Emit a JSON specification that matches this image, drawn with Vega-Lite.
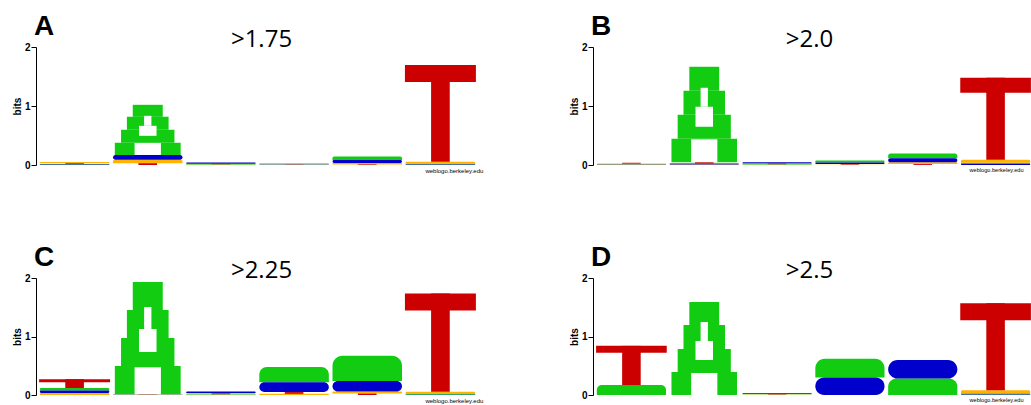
{
  "$schema": "https://vega.github.io/schema/vega-lite/v6.json",
  "padding": {"left": 12, "top": 13, "right": 0, "bottom": 0},
  "background": "white",
  "config": {
    "view": {"stroke": null},
    "font": "Liberation Sans",
    "axis": {"grid": false},
    "title": {"anchor": "start", "frame": "group", "fontSize": 28, "fontWeight": "bold", "color": "#000", "dx": -4, "offset": -14}
  },
  "datasets": {
    "logo": [
      {"panel": "A", "pos": 1, "letter": "A", "bits": 0.008},
      {"panel": "A", "pos": 1, "letter": "C", "bits": 0.01},
      {"panel": "A", "pos": 1, "letter": "T", "bits": 0.012},
      {"panel": "A", "pos": 1, "letter": "G", "bits": 0.02},
      {"panel": "A", "pos": 2, "letter": "T", "bits": 0.03},
      {"panel": "A", "pos": 2, "letter": "G", "bits": 0.06},
      {"panel": "A", "pos": 2, "letter": "C", "bits": 0.08},
      {"panel": "A", "pos": 2, "letter": "A", "bits": 0.85},
      {"panel": "A", "pos": 3, "letter": "G", "bits": 0.005},
      {"panel": "A", "pos": 3, "letter": "A", "bits": 0.008},
      {"panel": "A", "pos": 3, "letter": "T", "bits": 0.01},
      {"panel": "A", "pos": 3, "letter": "C", "bits": 0.02},
      {"panel": "A", "pos": 4, "letter": "G", "bits": 0.003},
      {"panel": "A", "pos": 4, "letter": "T", "bits": 0.004},
      {"panel": "A", "pos": 4, "letter": "C", "bits": 0.005},
      {"panel": "A", "pos": 4, "letter": "A", "bits": 0.015},
      {"panel": "A", "pos": 5, "letter": "T", "bits": 0.01},
      {"panel": "A", "pos": 5, "letter": "G", "bits": 0.025},
      {"panel": "A", "pos": 5, "letter": "C", "bits": 0.05},
      {"panel": "A", "pos": 5, "letter": "A", "bits": 0.06},
      {"panel": "A", "pos": 6, "letter": "C", "bits": 0.01},
      {"panel": "A", "pos": 6, "letter": "A", "bits": 0.015},
      {"panel": "A", "pos": 6, "letter": "G", "bits": 0.03},
      {"panel": "A", "pos": 6, "letter": "T", "bits": 1.64},

      {"panel": "B", "pos": 1, "letter": "C", "bits": 0.005},
      {"panel": "B", "pos": 1, "letter": "G", "bits": 0.008},
      {"panel": "B", "pos": 1, "letter": "A", "bits": 0.01},
      {"panel": "B", "pos": 1, "letter": "T", "bits": 0.015},
      {"panel": "B", "pos": 2, "letter": "G", "bits": 0.01},
      {"panel": "B", "pos": 2, "letter": "C", "bits": 0.015},
      {"panel": "B", "pos": 2, "letter": "T", "bits": 0.02},
      {"panel": "B", "pos": 2, "letter": "A", "bits": 1.62},
      {"panel": "B", "pos": 3, "letter": "G", "bits": 0.005},
      {"panel": "B", "pos": 3, "letter": "A", "bits": 0.008},
      {"panel": "B", "pos": 3, "letter": "T", "bits": 0.012},
      {"panel": "B", "pos": 3, "letter": "C", "bits": 0.02},
      {"panel": "B", "pos": 4, "letter": "G", "bits": 0.006},
      {"panel": "B", "pos": 4, "letter": "T", "bits": 0.01},
      {"panel": "B", "pos": 4, "letter": "C", "bits": 0.025},
      {"panel": "B", "pos": 4, "letter": "A", "bits": 0.035},
      {"panel": "B", "pos": 5, "letter": "T", "bits": 0.015},
      {"panel": "B", "pos": 5, "letter": "G", "bits": 0.03},
      {"panel": "B", "pos": 5, "letter": "C", "bits": 0.07},
      {"panel": "B", "pos": 5, "letter": "A", "bits": 0.08},
      {"panel": "B", "pos": 6, "letter": "C", "bits": 0.015},
      {"panel": "B", "pos": 6, "letter": "A", "bits": 0.025},
      {"panel": "B", "pos": 6, "letter": "G", "bits": 0.05},
      {"panel": "B", "pos": 6, "letter": "T", "bits": 1.39},

      {"panel": "C", "pos": 1, "letter": "G", "bits": 0.035},
      {"panel": "C", "pos": 1, "letter": "C", "bits": 0.04},
      {"panel": "C", "pos": 1, "letter": "A", "bits": 0.045},
      {"panel": "C", "pos": 1, "letter": "T", "bits": 0.15},
      {"panel": "C", "pos": 2, "letter": "G", "bits": 0.003},
      {"panel": "C", "pos": 2, "letter": "C", "bits": 0.004},
      {"panel": "C", "pos": 2, "letter": "T", "bits": 0.005},
      {"panel": "C", "pos": 2, "letter": "A", "bits": 1.92},
      {"panel": "C", "pos": 3, "letter": "G", "bits": 0.005},
      {"panel": "C", "pos": 3, "letter": "A", "bits": 0.008},
      {"panel": "C", "pos": 3, "letter": "T", "bits": 0.015},
      {"panel": "C", "pos": 3, "letter": "C", "bits": 0.03},
      {"panel": "C", "pos": 4, "letter": "G", "bits": 0.02},
      {"panel": "C", "pos": 4, "letter": "T", "bits": 0.03},
      {"panel": "C", "pos": 4, "letter": "C", "bits": 0.17},
      {"panel": "C", "pos": 4, "letter": "A", "bits": 0.26},
      {"panel": "C", "pos": 5, "letter": "T", "bits": 0.025},
      {"panel": "C", "pos": 5, "letter": "G", "bits": 0.035},
      {"panel": "C", "pos": 5, "letter": "C", "bits": 0.18},
      {"panel": "C", "pos": 5, "letter": "A", "bits": 0.43},
      {"panel": "C", "pos": 6, "letter": "C", "bits": 0.005},
      {"panel": "C", "pos": 6, "letter": "A", "bits": 0.01},
      {"panel": "C", "pos": 6, "letter": "G", "bits": 0.04},
      {"panel": "C", "pos": 6, "letter": "T", "bits": 1.68},

      {"panel": "D", "pos": 1, "letter": "A", "bits": 0.17},
      {"panel": "D", "pos": 1, "letter": "T", "bits": 0.67},
      {"panel": "D", "pos": 2, "letter": "A", "bits": 1.59},
      {"panel": "D", "pos": 3, "letter": "G", "bits": 0.004},
      {"panel": "D", "pos": 3, "letter": "A", "bits": 0.006},
      {"panel": "D", "pos": 3, "letter": "T", "bits": 0.01},
      {"panel": "D", "pos": 3, "letter": "C", "bits": 0.015},
      {"panel": "D", "pos": 4, "letter": "C", "bits": 0.30},
      {"panel": "D", "pos": 4, "letter": "A", "bits": 0.32},
      {"panel": "D", "pos": 5, "letter": "A", "bits": 0.28},
      {"panel": "D", "pos": 5, "letter": "C", "bits": 0.32},
      {"panel": "D", "pos": 6, "letter": "C", "bits": 0.01},
      {"panel": "D", "pos": 6, "letter": "A", "bits": 0.02},
      {"panel": "D", "pos": 6, "letter": "G", "bits": 0.05},
      {"panel": "D", "pos": 6, "letter": "T", "bits": 1.49}
    ]
  },
  "vconcat": [
    {
      "hconcat": [
        {
          "width": 439, "height": 118,
          "title": "A",
          "data": {"name": "logo"},
          "transform": [
            {"filter": "datum.panel == 'A'"},
            {"stack": "bits", "groupby": ["pos"], "sort": [{"field": "bits", "order": "ascending"}], "as": ["b0", "b1"]}
          ],
          "encoding": {
            "x": {"field": "pos", "type": "ordinal", "scale": {"domain": [1, 2, 3, 4, 5, 6], "paddingInner": 0, "paddingOuter": 0},
                  "axis": {"orient": "top", "title": ">1.75", "labels": false, "ticks": false, "domain": false, "titleFont": "Open Sans", "titleFontSize": 24, "titleFontWeight": "normal", "titleColor": "#000", "titlePadding": -4, "titleX": 223}},
            "y": {"field": "b1", "type": "quantitative", "scale": {"domain": [0, 2], "nice": false},
                  "axis": {"title": "bits", "tickCount": 2, "format": "d", "offset": 2, "tickSize": 5, "labelOverlap": false, "labelFontWeight": "bold", "labelFontSize": 10, "labelPadding": 1, "titleFontWeight": "bold", "titleFontSize": 10, "titlePadding": 2, "domainColor": "#000", "tickColor": "#000", "labelColor": "#000", "titleColor": "#000"}}
          },
          "layer": [
            {"transform": [{"filter": "datum.letter == 'A' && datum.bits < 0.8 || datum.letter == 'G'"}], "mark": {"type": "bar", "width": {"band": 0.95}, "cornerRadiusTopLeft": 10, "cornerRadiusTopRight": 10},
             "encoding": {"y2": {"field": "b0"}, "color": {"field": "letter", "type": "nominal", "scale": {"domain": ["A", "C", "G", "T"], "range": ["#11cc11", "#0000cc", "#ffb300", "#cc0000"]}, "legend": null}}},
            {"transform": [{"filter": "datum.letter == 'C'"}], "mark": {"type": "bar", "width": {"band": 0.95}, "cornerRadius": 10, "color": "#0000cc"},
             "encoding": {"y2": {"field": "b0"}}},
            {"transform": [{"filter": "datum.letter == 'A' && datum.bits >= 0.8"}], "mark": {"type": "bar", "width": {"band": 0.41}, "color": "#11cc11", "y2Offset": 12}, "encoding": {"y2": {"field": "b1"}}},
            {"transform": [{"filter": "datum.letter == 'A' && datum.bits >= 0.8"}], "mark": {"type": "bar", "width": {"band": 0.57}, "color": "#11cc11", "yOffset": 12, "y2Offset": 25}, "encoding": {"y2": {"field": "b1"}}},
            {"transform": [{"filter": "datum.letter == 'A' && datum.bits >= 0.8"}], "mark": {"type": "bar", "width": {"band": 0.73}, "color": "#11cc11", "yOffset": 25, "y2Offset": 38}, "encoding": {"y2": {"field": "b1"}}},
            {"transform": [{"filter": "datum.letter == 'A' && datum.bits >= 0.8"}], "mark": {"type": "bar", "width": {"band": 0.9}, "color": "#11cc11", "yOffset": 38}, "encoding": {"y2": {"field": "b0"}}},
            {"transform": [{"filter": "datum.letter == 'A' && datum.bits >= 0.8"}], "mark": {"type": "bar", "width": {"band": 0.1}, "color": "white", "yOffset": 11, "y2Offset": 21}, "encoding": {"y2": {"field": "b1"}}},
            {"transform": [{"filter": "datum.letter == 'A' && datum.bits >= 0.8"}], "mark": {"type": "bar", "width": {"band": 0.24}, "color": "white", "yOffset": 21, "y2Offset": 31}, "encoding": {"y2": {"field": "b1"}}},
            {"transform": [{"filter": "datum.letter == 'A' && datum.bits >= 0.8"}], "mark": {"type": "bar", "width": {"band": 0.36}, "color": "white", "yOffset": -12}, "encoding": {"y": {"field": "b0"}, "y2": {"field": "b0"}}},
            {"transform": [{"filter": "datum.letter == 'T'"}], "mark": {"type": "bar", "width": {"band": 0.255}, "color": "#cc0000"},
             "encoding": {"y2": {"field": "b0"}}},
            {"transform": [{"filter": "datum.letter == 'T' && datum.bits >= 1"}], "mark": {"type": "bar", "width": {"band": 0.97}, "color": "#cc0000", "y2Offset": 17},
             "encoding": {"y2": {"field": "b1"}}},
            {"transform": [{"filter": "datum.pos == 6 && datum.b0 == 0"}], "mark": {"type": "text", "text": "weblogo.berkeley.edu", "fontSize": 6, "align": "left", "baseline": "top", "dx": -15, "dy": 3, "color": "#000"},
             "encoding": {"y": {"field": "b0", "type": "quantitative"}}}
          ]
        },
        {
          "width": 437, "height": 118,
          "title": "B",
          "data": {"name": "logo"},
          "transform": [
            {"filter": "datum.panel == 'B'"},
            {"stack": "bits", "groupby": ["pos"], "sort": [{"field": "bits", "order": "ascending"}], "as": ["b0", "b1"]}
          ],
          "encoding": {
            "x": {"field": "pos", "type": "ordinal", "scale": {"domain": [1, 2, 3, 4, 5, 6], "paddingInner": 0, "paddingOuter": 0},
                  "axis": {"orient": "top", "title": ">2.0", "labels": false, "ticks": false, "domain": false, "titleFont": "Open Sans", "titleFontSize": 24, "titleFontWeight": "normal", "titleColor": "#000", "titlePadding": -4, "titleX": 214}},
            "y": {"field": "b1", "type": "quantitative", "scale": {"domain": [0, 2], "nice": false},
                  "axis": {"title": "bits", "tickCount": 2, "format": "d", "offset": 2, "tickSize": 5, "labelOverlap": false, "labelFontWeight": "bold", "labelFontSize": 10, "labelPadding": 1, "titleFontWeight": "bold", "titleFontSize": 10, "titlePadding": 2, "domainColor": "#000", "tickColor": "#000", "labelColor": "#000", "titleColor": "#000"}}
          },
          "layer": [
            {"transform": [{"filter": "datum.letter == 'A' && datum.bits < 0.8 || datum.letter == 'G'"}], "mark": {"type": "bar", "width": {"band": 0.95}, "cornerRadiusTopLeft": 10, "cornerRadiusTopRight": 10},
             "encoding": {"y2": {"field": "b0"}, "color": {"field": "letter", "type": "nominal", "scale": {"domain": ["A", "C", "G", "T"], "range": ["#11cc11", "#0000cc", "#ffb300", "#cc0000"]}, "legend": null}}},
            {"transform": [{"filter": "datum.letter == 'C'"}], "mark": {"type": "bar", "width": {"band": 0.95}, "cornerRadius": 10, "color": "#0000cc"},
             "encoding": {"y2": {"field": "b0"}}},
            {"transform": [{"filter": "datum.letter == 'A' && datum.bits >= 0.8"}], "mark": {"type": "bar", "width": {"band": 0.41}, "color": "#11cc11", "y2Offset": 24}, "encoding": {"y2": {"field": "b1"}}},
            {"transform": [{"filter": "datum.letter == 'A' && datum.bits >= 0.8"}], "mark": {"type": "bar", "width": {"band": 0.57}, "color": "#11cc11", "yOffset": 24, "y2Offset": 48}, "encoding": {"y2": {"field": "b1"}}},
            {"transform": [{"filter": "datum.letter == 'A' && datum.bits >= 0.8"}], "mark": {"type": "bar", "width": {"band": 0.73}, "color": "#11cc11", "yOffset": 48, "y2Offset": 72}, "encoding": {"y2": {"field": "b1"}}},
            {"transform": [{"filter": "datum.letter == 'A' && datum.bits >= 0.8"}], "mark": {"type": "bar", "width": {"band": 0.9}, "color": "#11cc11", "yOffset": 72}, "encoding": {"y2": {"field": "b0"}}},
            {"transform": [{"filter": "datum.letter == 'A' && datum.bits >= 0.8"}], "mark": {"type": "bar", "width": {"band": 0.1}, "color": "white", "yOffset": 21, "y2Offset": 40}, "encoding": {"y2": {"field": "b1"}}},
            {"transform": [{"filter": "datum.letter == 'A' && datum.bits >= 0.8"}], "mark": {"type": "bar", "width": {"band": 0.24}, "color": "white", "yOffset": 40, "y2Offset": 60}, "encoding": {"y2": {"field": "b1"}}},
            {"transform": [{"filter": "datum.letter == 'A' && datum.bits >= 0.8"}], "mark": {"type": "bar", "width": {"band": 0.36}, "color": "white", "yOffset": -23}, "encoding": {"y": {"field": "b0"}, "y2": {"field": "b0"}}},
            {"transform": [{"filter": "datum.letter == 'T'"}], "mark": {"type": "bar", "width": {"band": 0.255}, "color": "#cc0000"},
             "encoding": {"y2": {"field": "b0"}}},
            {"transform": [{"filter": "datum.letter == 'T' && datum.bits >= 1"}], "mark": {"type": "bar", "width": {"band": 0.97}, "color": "#cc0000", "y2Offset": 15},
             "encoding": {"y2": {"field": "b1"}}},
            {"transform": [{"filter": "datum.pos == 6 && datum.b0 == 0"}], "mark": {"type": "text", "text": "weblogo.berkeley.edu", "fontSize": 5.6, "align": "left", "baseline": "top", "dx": -26, "dy": 3, "color": "#000"},
             "encoding": {"y": {"field": "b0", "type": "quantitative"}}}
          ]
        }
      ],
      "spacing": 85
    },
    {
      "hconcat": [
        {
          "width": 439, "height": 117,
          "title": "C",
          "data": {"name": "logo"},
          "transform": [
            {"filter": "datum.panel == 'C'"},
            {"stack": "bits", "groupby": ["pos"], "sort": [{"field": "bits", "order": "ascending"}], "as": ["b0", "b1"]}
          ],
          "encoding": {
            "x": {"field": "pos", "type": "ordinal", "scale": {"domain": [1, 2, 3, 4, 5, 6], "paddingInner": 0, "paddingOuter": 0},
                  "axis": {"orient": "top", "title": ">2.25", "labels": false, "ticks": false, "domain": false, "titleFont": "Open Sans", "titleFontSize": 24, "titleFontWeight": "normal", "titleColor": "#000", "titlePadding": -4, "titleX": 223}},
            "y": {"field": "b1", "type": "quantitative", "scale": {"domain": [0, 2], "nice": false},
                  "axis": {"title": "bits", "tickCount": 2, "format": "d", "offset": 2, "tickSize": 5, "labelOverlap": false, "labelFontWeight": "bold", "labelFontSize": 10, "labelPadding": 1, "titleFontWeight": "bold", "titleFontSize": 10, "titlePadding": 2, "domainColor": "#000", "tickColor": "#000", "labelColor": "#000", "titleColor": "#000"}}
          },
          "layer": [
            {"transform": [{"filter": "datum.letter == 'A' && datum.bits < 0.8 || datum.letter == 'G'"}], "mark": {"type": "bar", "width": {"band": 0.95}, "cornerRadiusTopLeft": 10, "cornerRadiusTopRight": 10},
             "encoding": {"y2": {"field": "b0"}, "color": {"field": "letter", "type": "nominal", "scale": {"domain": ["A", "C", "G", "T"], "range": ["#11cc11", "#0000cc", "#ffb300", "#cc0000"]}, "legend": null}}},
            {"transform": [{"filter": "datum.letter == 'C'"}], "mark": {"type": "bar", "width": {"band": 0.95}, "cornerRadius": 10, "color": "#0000cc"},
             "encoding": {"y2": {"field": "b0"}}},
            {"transform": [{"filter": "datum.letter == 'A' && datum.bits >= 0.8"}], "mark": {"type": "bar", "width": {"band": 0.41}, "color": "#11cc11", "y2Offset": 28}, "encoding": {"y2": {"field": "b1"}}},
            {"transform": [{"filter": "datum.letter == 'A' && datum.bits >= 0.8"}], "mark": {"type": "bar", "width": {"band": 0.57}, "color": "#11cc11", "yOffset": 28, "y2Offset": 56}, "encoding": {"y2": {"field": "b1"}}},
            {"transform": [{"filter": "datum.letter == 'A' && datum.bits >= 0.8"}], "mark": {"type": "bar", "width": {"band": 0.73}, "color": "#11cc11", "yOffset": 56, "y2Offset": 84}, "encoding": {"y2": {"field": "b1"}}},
            {"transform": [{"filter": "datum.letter == 'A' && datum.bits >= 0.8"}], "mark": {"type": "bar", "width": {"band": 0.9}, "color": "#11cc11", "yOffset": 84}, "encoding": {"y2": {"field": "b0"}}},
            {"transform": [{"filter": "datum.letter == 'A' && datum.bits >= 0.8"}], "mark": {"type": "bar", "width": {"band": 0.1}, "color": "white", "yOffset": 25, "y2Offset": 47}, "encoding": {"y2": {"field": "b1"}}},
            {"transform": [{"filter": "datum.letter == 'A' && datum.bits >= 0.8"}], "mark": {"type": "bar", "width": {"band": 0.24}, "color": "white", "yOffset": 47, "y2Offset": 70}, "encoding": {"y2": {"field": "b1"}}},
            {"transform": [{"filter": "datum.letter == 'A' && datum.bits >= 0.8"}], "mark": {"type": "bar", "width": {"band": 0.36}, "color": "white", "yOffset": -27}, "encoding": {"y": {"field": "b0"}, "y2": {"field": "b0"}}},
            {"transform": [{"filter": "datum.letter == 'T'"}], "mark": {"type": "bar", "width": {"band": 0.255}, "color": "#cc0000"},
             "encoding": {"y2": {"field": "b0"}}},
            {"transform": [{"filter": "datum.letter == 'T' && datum.bits >= 1"}], "mark": {"type": "bar", "width": {"band": 0.97}, "color": "#cc0000", "y2Offset": 17},
             "encoding": {"y2": {"field": "b1"}}},
            {"transform": [{"filter": "datum.letter == 'T' && datum.bits >= 0.1 && datum.bits < 0.5"}], "mark": {"type": "bar", "width": {"band": 0.97}, "color": "#cc0000", "y2Offset": 3},
             "encoding": {"y2": {"field": "b1"}}},
            {"transform": [{"filter": "datum.pos == 6 && datum.b0 == 0"}], "mark": {"type": "text", "text": "weblogo.berkeley.edu", "fontSize": 6, "align": "left", "baseline": "top", "dx": -15, "dy": 3, "color": "#000"},
             "encoding": {"y": {"field": "b0", "type": "quantitative"}}}
          ]
        },
        {
          "width": 437, "height": 117,
          "title": "D",
          "data": {"name": "logo"},
          "transform": [
            {"filter": "datum.panel == 'D'"},
            {"stack": "bits", "groupby": ["pos"], "sort": [{"field": "bits", "order": "ascending"}], "as": ["b0", "b1"]}
          ],
          "encoding": {
            "x": {"field": "pos", "type": "ordinal", "scale": {"domain": [1, 2, 3, 4, 5, 6], "paddingInner": 0, "paddingOuter": 0},
                  "axis": {"orient": "top", "title": ">2.5", "labels": false, "ticks": false, "domain": false, "titleFont": "Open Sans", "titleFontSize": 24, "titleFontWeight": "normal", "titleColor": "#000", "titlePadding": -4, "titleX": 214}},
            "y": {"field": "b1", "type": "quantitative", "scale": {"domain": [0, 2], "nice": false},
                  "axis": {"title": "bits", "tickCount": 2, "format": "d", "offset": 2, "tickSize": 5, "labelOverlap": false, "labelFontWeight": "bold", "labelFontSize": 10, "labelPadding": 1, "titleFontWeight": "bold", "titleFontSize": 10, "titlePadding": 2, "domainColor": "#000", "tickColor": "#000", "labelColor": "#000", "titleColor": "#000"}}
          },
          "layer": [
            {"transform": [{"filter": "datum.letter == 'A' && datum.bits < 0.8 || datum.letter == 'G'"}], "mark": {"type": "bar", "width": {"band": 0.95}, "cornerRadiusTopLeft": 10, "cornerRadiusTopRight": 10},
             "encoding": {"y2": {"field": "b0"}, "color": {"field": "letter", "type": "nominal", "scale": {"domain": ["A", "C", "G", "T"], "range": ["#11cc11", "#0000cc", "#ffb300", "#cc0000"]}, "legend": null}}},
            {"transform": [{"filter": "datum.letter == 'C'"}], "mark": {"type": "bar", "width": {"band": 0.95}, "cornerRadius": 10, "color": "#0000cc"},
             "encoding": {"y2": {"field": "b0"}}},
            {"transform": [{"filter": "datum.letter == 'A' && datum.bits >= 0.8"}], "mark": {"type": "bar", "width": {"band": 0.41}, "color": "#11cc11", "y2Offset": 23}, "encoding": {"y2": {"field": "b1"}}},
            {"transform": [{"filter": "datum.letter == 'A' && datum.bits >= 0.8"}], "mark": {"type": "bar", "width": {"band": 0.57}, "color": "#11cc11", "yOffset": 23, "y2Offset": 47}, "encoding": {"y2": {"field": "b1"}}},
            {"transform": [{"filter": "datum.letter == 'A' && datum.bits >= 0.8"}], "mark": {"type": "bar", "width": {"band": 0.73}, "color": "#11cc11", "yOffset": 47, "y2Offset": 70}, "encoding": {"y2": {"field": "b1"}}},
            {"transform": [{"filter": "datum.letter == 'A' && datum.bits >= 0.8"}], "mark": {"type": "bar", "width": {"band": 0.9}, "color": "#11cc11", "yOffset": 70}, "encoding": {"y2": {"field": "b0"}}},
            {"transform": [{"filter": "datum.letter == 'A' && datum.bits >= 0.8"}], "mark": {"type": "bar", "width": {"band": 0.1}, "color": "white", "yOffset": 20, "y2Offset": 39}, "encoding": {"y2": {"field": "b1"}}},
            {"transform": [{"filter": "datum.letter == 'A' && datum.bits >= 0.8"}], "mark": {"type": "bar", "width": {"band": 0.24}, "color": "white", "yOffset": 39, "y2Offset": 58}, "encoding": {"y2": {"field": "b1"}}},
            {"transform": [{"filter": "datum.letter == 'A' && datum.bits >= 0.8"}], "mark": {"type": "bar", "width": {"band": 0.36}, "color": "white", "yOffset": -22}, "encoding": {"y": {"field": "b0"}, "y2": {"field": "b0"}}},
            {"transform": [{"filter": "datum.letter == 'T'"}], "mark": {"type": "bar", "width": {"band": 0.255}, "color": "#cc0000"},
             "encoding": {"y2": {"field": "b0"}}},
            {"transform": [{"filter": "datum.letter == 'T' && datum.bits >= 1"}], "mark": {"type": "bar", "width": {"band": 0.97}, "color": "#cc0000", "y2Offset": 17},
             "encoding": {"y2": {"field": "b1"}}},
            {"transform": [{"filter": "datum.letter == 'T' && datum.bits >= 0.5 && datum.bits < 1"}], "mark": {"type": "bar", "width": {"band": 0.97}, "color": "#cc0000", "y2Offset": 7},
             "encoding": {"y2": {"field": "b1"}}},
            {"transform": [{"filter": "datum.pos == 6 && datum.b0 == 0"}], "mark": {"type": "text", "text": "weblogo.berkeley.edu", "fontSize": 5.6, "align": "left", "baseline": "top", "dx": -26, "dy": 3, "color": "#000"},
             "encoding": {"y": {"field": "b0", "type": "quantitative"}}}
          ]
        }
      ],
      "spacing": 85
    }
  ],
  "spacing": 70
}
